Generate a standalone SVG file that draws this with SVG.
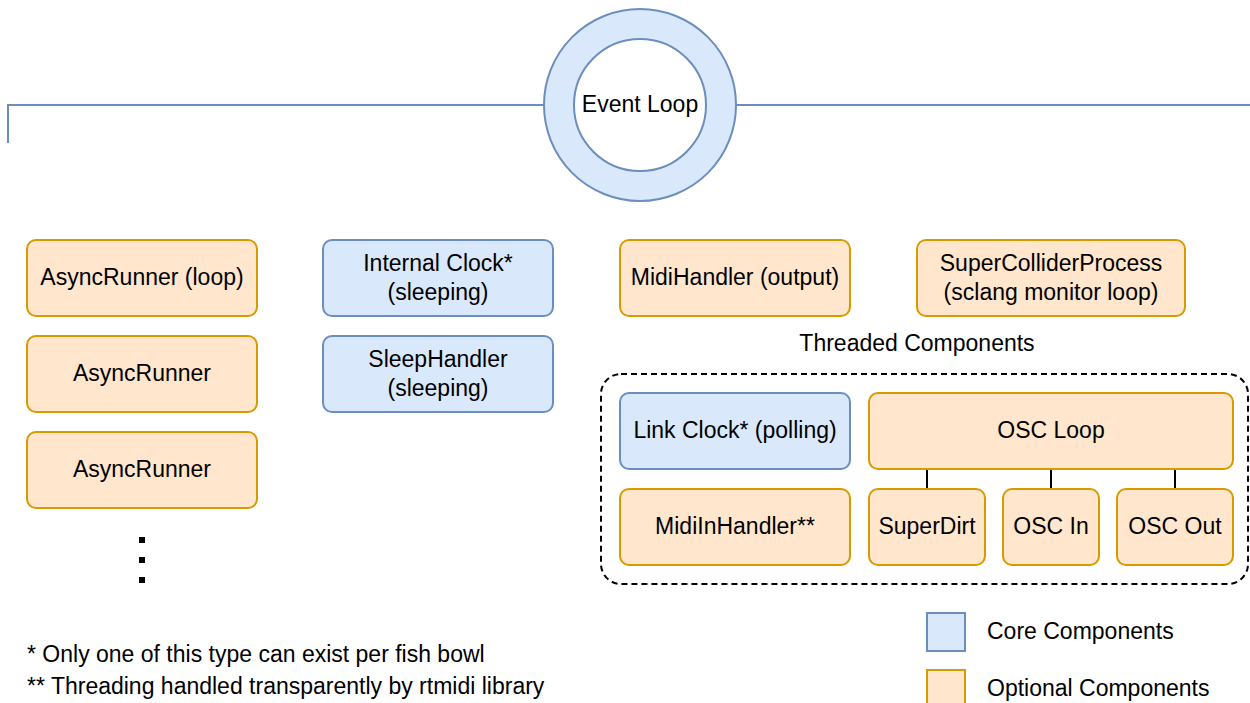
<svg xmlns="http://www.w3.org/2000/svg" width="1250" height="703" viewBox="0 0 1250 703">
<style>
.o{fill:#ffe6cc;stroke:#d79b00;stroke-width:2}
.b{fill:#dae8fc;stroke:#6c8ebf;stroke-width:2}
text{font-family:"Liberation Sans",Arial,sans-serif;font-size:23px;fill:#000;text-anchor:middle;dominant-baseline:central}
.l{text-anchor:start}
</style>
<rect width="1250" height="703" fill="#fff"/>
<g id="connectors" fill="none">
<path d="M8 143V105H544M736 105H1250" stroke="#6c8ebf" stroke-width="2"/>
<path d="M927 469V489M1051 469V489M1175 469V489" stroke="#000" stroke-width="2"/>
</g>
<g id="event-loop">
<circle cx="640" cy="105" r="96" class="b"/>
<circle cx="640" cy="105" r="66" fill="#fff" stroke="#6c8ebf" stroke-width="2"/>
<text x="640" y="104">Event Loop</text>
</g>
<g id="async-loop"><rect x="27" y="240" width="230" height="76" rx="9" class="o"/><text x="142" y="277">AsyncRunner (loop)</text></g>
<g id="async-1"><rect x="27" y="336" width="230" height="76" rx="9" class="o"/><text x="142" y="373">AsyncRunner</text></g>
<g id="async-2"><rect x="27" y="432" width="230" height="76" rx="9" class="o"/><text x="142" y="469">AsyncRunner</text></g>
<g id="dots" fill="#000"><rect x="139" y="537" width="6" height="6"/><rect x="139" y="557" width="6" height="6"/><rect x="139" y="577" width="6" height="6"/></g>
<g id="internal-clock"><rect x="323" y="240" width="230" height="76" rx="9" class="b"/><text x="438" y="263">Internal Clock*</text><text x="438" y="292">(sleeping)</text></g>
<g id="sleep-handler"><rect x="323" y="336" width="230" height="76" rx="9" class="b"/><text x="438" y="359">SleepHandler</text><text x="438" y="388">(sleeping)</text></g>
<g id="midi-handler"><rect x="620" y="240" width="230" height="76" rx="9" class="o"/><text x="735" y="277">MidiHandler (output)</text></g>
<g id="sc-process"><rect x="917" y="240" width="268" height="76" rx="9" class="o"/><text x="1051" y="263">SuperColliderProcess</text><text x="1051" y="292">(sclang monitor loop)</text></g>
<g id="threaded">
<text x="917" y="343">Threaded Components</text>
<rect x="601" y="374" width="647" height="210" rx="20" fill="none" stroke="#000" stroke-width="2" stroke-dasharray="6 4"/>
</g>
<g id="link-clock"><rect x="620" y="393" width="230" height="76" rx="9" class="b"/><text x="735" y="430">Link Clock* (polling)</text></g>
<g id="osc-loop"><rect x="869" y="393" width="364" height="76" rx="9" class="o"/><text x="1051" y="430">OSC Loop</text></g>
<g id="midi-in"><rect x="620" y="489" width="230" height="76" rx="9" class="o"/><text x="735" y="526">MidiInHandler**</text></g>
<g id="superdirt"><rect x="869" y="489" width="116" height="76" rx="9" class="o"/><text x="927" y="526">SuperDirt</text></g>
<g id="osc-in"><rect x="1003" y="489" width="96" height="76" rx="9" class="o"/><text x="1051" y="526">OSC In</text></g>
<g id="osc-out"><rect x="1117" y="489" width="116" height="76" rx="9" class="o"/><text x="1175" y="526">OSC Out</text></g>
<g id="notes">
<text x="27" y="654" class="l">* Only one of this type can exist per fish bowl</text>
<text x="27" y="686" class="l">** Threading handled transparently by rtmidi library</text>
</g>
<g id="legend">
<rect x="927" y="613" width="38" height="38" class="b"/>
<text x="987" y="631" class="l">Core Components</text>
<rect x="927" y="670" width="38" height="38" class="o"/>
<text x="987" y="688" class="l">Optional Components</text>
</g>
</svg>
